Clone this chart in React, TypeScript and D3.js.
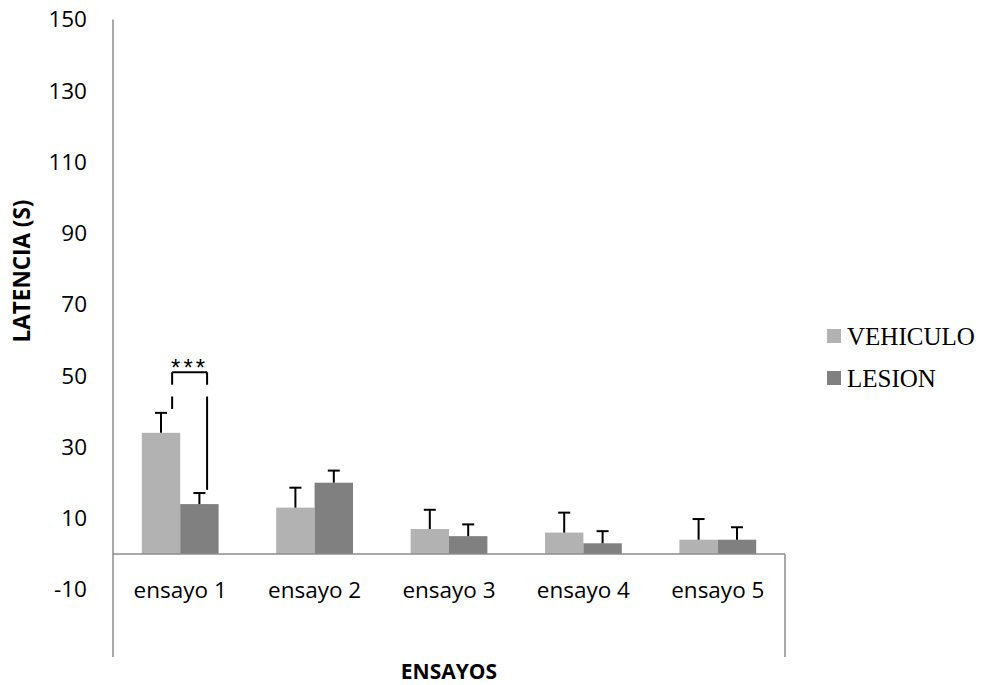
import React from 'react';
import * as d3 from 'd3';

// chart values
const categories = ['ensayo 1', 'ensayo 2', 'ensayo 3', 'ensayo 4', 'ensayo 5'];
const seriesNames = ['VEHICULO', 'LESION'];
const vehiculo = [34, 13, 7, 6, 4];
const vehiculoErr = [5.6, 5.6, 5.4, 5.6, 5.8];
const lesion = [14, 20, 5, 3, 4];
const lesionErr = [3.1, 3.4, 3.3, 3.4, 3.5];
const yTicks = [-10, 10, 30, 50, 70, 90, 110, 130, 150];
const seriesColors = ['#b2b2b2', '#808080'];

// significance bracket on ensayo 1 (values in axis units)
const bracketTop = 51;
const bracketGap = [47.5, 44.2];
const bracketEnds = [40.7, 18];

const W = 985;
const H = 685;
const plotLeft = 113;
const plotRight = 785;
const plotTop = 19.5;
const plotBottom = 657;

const sans = "'Open Sans', sans-serif";
const serif = "'Liberation Serif', 'Times New Roman', serif";

export default function App() {
  const y = d3.scaleLinear().domain([-10, 150]).range([589.6, 19.5]);
  const x = d3.scaleBand<string>().domain(categories).range([plotLeft, plotRight]).padding(0);
  const x1 = d3.scaleBand<string>().domain(seriesNames).range([0, x.bandwidth()])
    .paddingInner(0).paddingOuter(0.75);

  const series = [
    { name: seriesNames[0], values: vehiculo, errs: vehiculoErr, color: seriesColors[0] },
    { name: seriesNames[1], values: lesion, errs: lesionErr, color: seriesColors[1] },
  ];

  const y0 = y(0);
  const axisColor = '#8c8c8c';

  // bracket x positions inside the first band
  const bx0 = (x(categories[0]) ?? 0) + x.bandwidth() * 0.44;
  const bx1 = (x(categories[0]) ?? 0) + x.bandwidth() * 0.70;

  return (
    <svg width={W} height={H} style={{ position: 'absolute', left: 0, top: 0, background: '#fff' }}>
      {/* y axis tick labels */}
      {yTicks.map(t => (
        <text key={t} x={87} y={y(t)} dy="0.35em" textAnchor="end"
          fontFamily={sans} fontSize={22.5} fill="#000">{t}</text>
      ))}

      {/* bars */}
      {series.map(s => (
        <g key={s.name}>
          {categories.map((c, i) => {
            const bx = (x(c) ?? 0) + (x1(s.name) ?? 0);
            const v = s.values[i];
            return (
              <rect key={c} x={bx} y={y(v)} width={x1.bandwidth()} height={y0 - y(v)} fill={s.color} />
            );
          })}
        </g>
      ))}

      {/* error bars (upper only) */}
      {series.map(s => (
        <g key={s.name + '-err'} stroke="#000" strokeWidth={2}>
          {categories.map((c, i) => {
            const cx = (x(c) ?? 0) + (x1(s.name) ?? 0) + x1.bandwidth() / 2;
            const top = y(s.values[i] + s.errs[i]);
            return (
              <g key={c}>
                <line x1={cx} x2={cx} y1={y(s.values[i])} y2={top} />
                <line x1={cx - 6} x2={cx + 6} y1={top} y2={top} />
              </g>
            );
          })}
        </g>
      ))}

      {/* axes */}
      <line x1={plotLeft} x2={plotLeft} y1={plotTop} y2={plotBottom} stroke={axisColor} strokeWidth={1.5} />
      <line x1={plotLeft} x2={plotRight} y1={y0} y2={y0} stroke={axisColor} strokeWidth={1.5} />
      <line x1={plotRight} x2={plotRight} y1={y0} y2={plotBottom} stroke={axisColor} strokeWidth={1.5} />

      {/* category labels */}
      {categories.map(c => (
        <text key={c} x={(x(c) ?? 0) + x.bandwidth() / 2} y={590} dy="0.35em" textAnchor="middle"
          fontFamily={sans} fontSize={22.5} fill="#000">{c}</text>
      ))}

      {/* significance bracket */}
      <g stroke="#000" strokeWidth={2} fill="none">
        <line x1={bx0} x2={bx1} y1={y(bracketTop)} y2={y(bracketTop)} />
        <line x1={bx0} x2={bx0} y1={y(bracketTop)} y2={y(bracketGap[0])} />
        <line x1={bx0} x2={bx0} y1={y(bracketGap[1])} y2={y(bracketEnds[0])} />
        <line x1={bx1} x2={bx1} y1={y(bracketTop)} y2={y(bracketGap[0])} />
        <line x1={bx1} x2={bx1} y1={y(bracketGap[1])} y2={y(bracketEnds[1])} />
      </g>
      <text x={(bx0 + bx1) / 2} y={y(bracketTop) + 4} textAnchor="middle" fontFamily="'Liberation Sans', Arial, sans-serif"
        fontSize={24} letterSpacing={3} fill="#000">***</text>

      {/* axis titles */}
      <text x={(plotLeft + plotRight) / 2} y={672} dy="0.35em" textAnchor="middle"
        fontFamily={sans} fontWeight="bold" fontSize={21} fill="#000">ENSAYOS</text>
      <text transform={`translate(22, 271) rotate(-90)`} dy="0.35em" textAnchor="middle"
        fontFamily={sans} fontWeight="bold" fontSize={22.5} fill="#000">LATENCIA (S)</text>

      {/* legend */}
      {series.map((s, i) => (
        <g key={s.name + '-leg'} transform={`translate(827, ${336 + i * 42})`}>
          <rect x={0} y={-7} width={14} height={14} fill={s.color} />
          <text x={20} y={0} dy="0.35em" fontFamily={serif} fontSize={25} fill="#000">{s.name}</text>
        </g>
      ))}
    </svg>
  );
}
